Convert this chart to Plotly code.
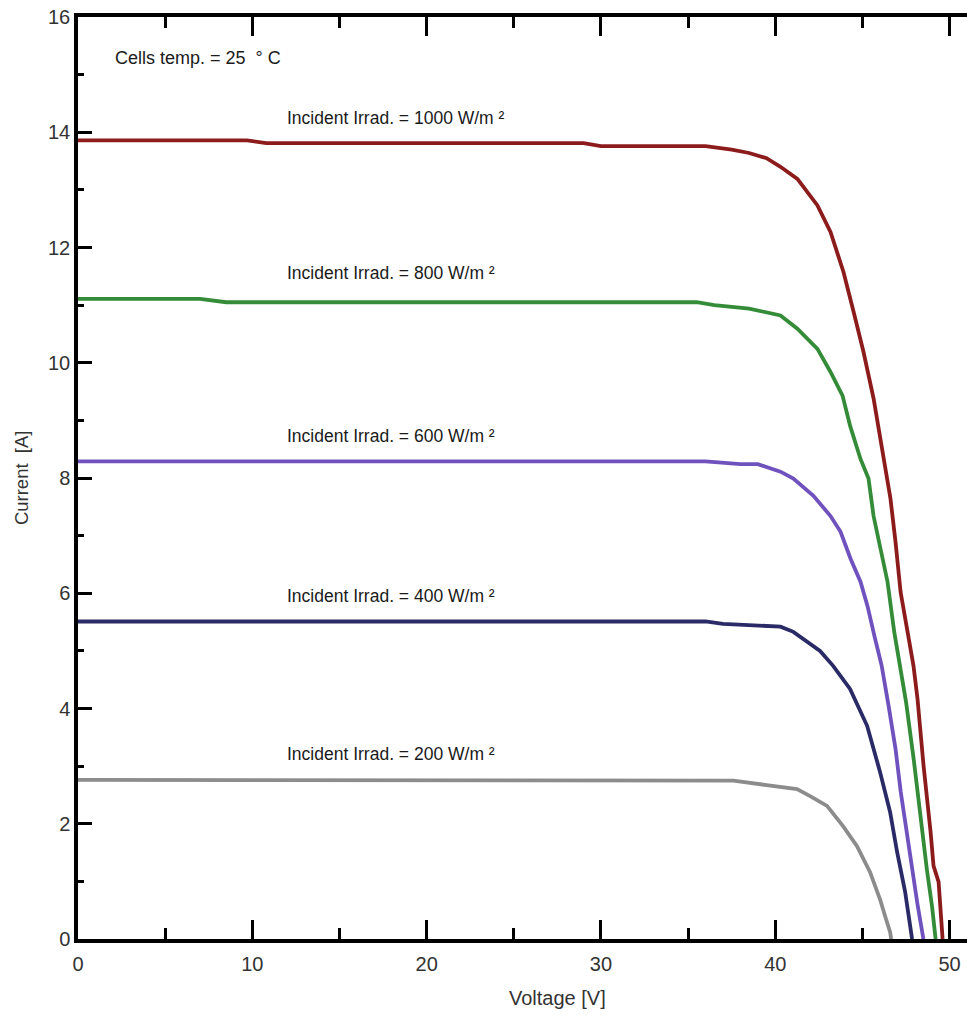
import plotly.graph_objects as go

# ---- data ----
v_1000 = [0, 9.7, 10.8, 29, 30, 36, 37.5, 38.5, 39.5, 40.3, 41.27, 42.42, 43.17, 43.91, 44.49,
          45.06, 45.64, 46.04, 46.61, 46.9, 47.19, 47.59, 47.93, 48.16, 48.51, 48.91, 49.08, 49.37, 49.6]
i_1000 = [13.86, 13.86, 13.81, 13.81, 13.76, 13.76, 13.70, 13.64, 13.55, 13.40, 13.19, 12.73, 12.27, 11.58, 10.89,
          10.19, 9.38, 8.63, 7.64, 6.89, 6.02, 5.33, 4.74, 4.17, 3.00, 1.86, 1.27, 0.99, 0]

v_800 = [0, 7, 8.5, 35.5, 36.5, 38.5, 40.3, 41.27, 42.42, 43.17, 43.86, 44.3, 44.89, 45.35, 45.64,
         46.04, 46.44, 46.83, 47.17, 47.5, 47.95, 48.3, 48.7, 49.0, 49.2]
i_800 = [11.11, 11.11, 11.05, 11.05, 11.0, 10.94, 10.82, 10.59, 10.24, 9.84, 9.43, 8.9, 8.33, 7.99, 7.34,
         6.77, 6.20, 5.32, 4.75, 4.12, 3.10, 2.20, 1.20, 0.55, 0]

v_600 = [0, 36, 38, 39, 40.3, 41.04, 42.19, 43.17, 43.74, 44.32, 44.89, 45.29, 45.68, 46.1, 46.5,
         46.9, 47.2, 47.7, 48.15, 48.5]
i_600 = [8.29, 8.29, 8.24, 8.24, 8.11, 7.99, 7.69, 7.34, 7.07, 6.60, 6.20, 5.78, 5.27, 4.75, 4.05,
         3.30, 2.55, 1.50, 0.62, 0]

v_400 = [0, 36, 37, 38.6, 40.3, 41.04, 42.19, 42.57, 43.32, 44.29, 45.27, 46.01, 46.59, 46.99,
         47.45, 47.73, 47.85]
i_400 = [5.51, 5.51, 5.47, 5.45, 5.42, 5.33, 5.09, 5.00, 4.74, 4.34, 3.70, 2.90, 2.20, 1.51,
         0.82, 0.23, 0]

v_200 = [0, 37.6, 39.5, 41.25, 42.0, 42.97, 43.89, 44.69, 45.44, 46.01, 46.3, 46.59, 46.65]
i_200 = [2.76, 2.75, 2.67, 2.60, 2.48, 2.31, 1.96, 1.61, 1.16, 0.69, 0.40, 0.12, 0]

labels = ["Incident Irrad. = 1000 W/m ²", "Incident Irrad. = 800 W/m ²", "Incident Irrad. = 600 W/m ²",
          "Incident Irrad. = 400 W/m ²", "Incident Irrad. = 200 W/m ²"]
label_y = [14.24, 11.55, 8.73, 5.96, 3.21]
label_x = 11.9
colors = ["rgb(140,28,28)", "rgb(52,140,56)", "rgb(112,82,190)", "rgb(42,42,102)", "rgb(140,140,140)"]

x_ticks = [0, 10, 20, 30, 40, 50]
y_ticks = [0, 2, 4, 6, 8, 10, 12, 14, 16]

FONT = "Liberation Sans, Arial, sans-serif"

series = [(v_1000, i_1000), (v_800, i_800), (v_600, i_600), (v_400, i_400), (v_200, i_200)]

fig = go.Figure()
for (v, i), c in zip(series, colors):
    fig.add_trace(go.Scatter(x=v, y=i, mode="lines", line=dict(color=c, width=3.8), showlegend=False))

for t, y in zip(labels, label_y):
    fig.add_annotation(x=label_x, y=y, xref="x", yref="y", text=t, showarrow=False,
                       xanchor="left", yanchor="middle", font=dict(size=17.5, color="#1a1a1a", family=FONT))

fig.add_annotation(x=2.0, y=15.28, xref="x", yref="y", text="Cells temp. = 25  ° C", showarrow=False,
                   xanchor="left", yanchor="middle", font=dict(size=18, color="#1a1a1a", family=FONT))

fig.add_annotation(x=27.5, y=-0.064, xref="x", yref="paper", text="Voltage [V]", showarrow=False,
                   xanchor="center", yanchor="middle", font=dict(size=20, color="#333", family=FONT))
fig.add_annotation(x=-0.064, y=0.5, xref="paper", yref="paper", text="Current  [A]", showarrow=False,
                   textangle=-90, xanchor="center", yanchor="middle", font=dict(size=18.5, color="#333", family=FONT))

fig.update_xaxes(range=[0, 51], tickvals=x_ticks, ticks="inside", ticklen=19, tickwidth=2.5, tickcolor="black",
                 minor=dict(ticks="inside", ticklen=11, dtick=5, tickwidth=2.5, tickcolor="black", showgrid=False),
                 showline=True, linewidth=4, linecolor="black", mirror="ticks", showgrid=False, zeroline=False,
                 tickfont=dict(size=20, color="#333", family=FONT), ticklabelstandoff=4)
fig.update_yaxes(range=[0, 16], tickvals=y_ticks, ticks="inside", ticklen=14, tickwidth=2.5, tickcolor="black",
                 minor=dict(ticks="inside", ticklen=6, dtick=1, tickwidth=2.5, tickcolor="black", showgrid=False),
                 showline=True, linewidth=3.5, linecolor="black", showgrid=False, zeroline=False,
                 tickfont=dict(size=20, color="#333", family=FONT))

fig.update_layout(width=967, height=1020, margin=dict(l=78, r=0, t=17, b=81),
                  plot_bgcolor="white", paper_bgcolor="white")

fig.write_html("out.html")
